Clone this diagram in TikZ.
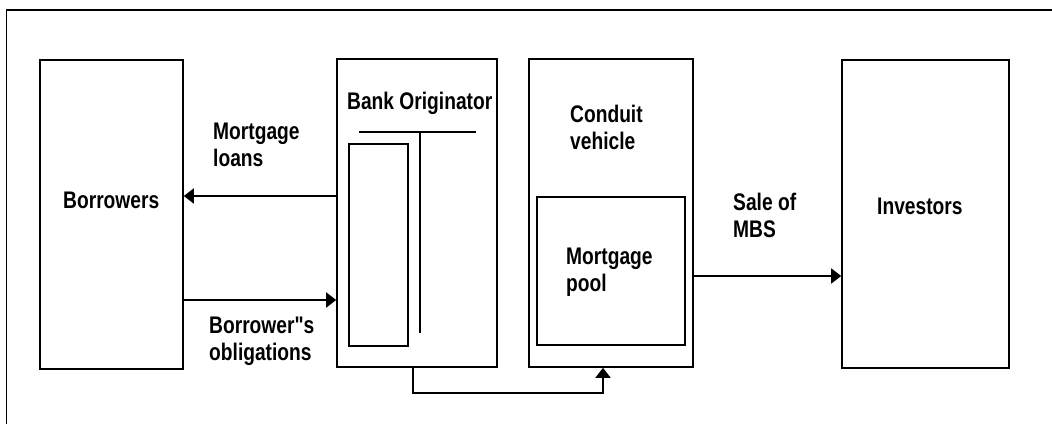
\documentclass[tikz,border=0pt]{standalone}
\usepackage{fontspec}
\setmainfont{Liberation Sans}[FakeStretch=0.8,Ligatures=TeXOff,UprightFont=*-Bold]
\usetikzlibrary{arrows.meta}
\begin{document}
\begin{tikzpicture}[x=1pt,y=-1pt,
  box/.style={draw=black,line width=1.6pt,inner sep=0pt,minimum width=#1},
  thin/.style={draw=black,line width=1.2pt},
  lbl/.style={inner sep=0pt,anchor=north west,align=left,font=\fontsize{24}{27}\selectfont},
  arr/.style={draw=black,line width=1.6pt,-{Triangle[length=10pt,width=15pt]}},
  conn/.style={draw=black,line width=1.6pt}]
\useasboundingbox (0,0) rectangle (1052,424);
\fill[white] (0,0) rectangle (1052,424);
% outer frame
\draw[conn] (1052,10) -- (6.5,10) -- (6.5,424);
% boxes
\node[box=143pt,minimum height=309pt] (borrowers) at (111.5,214.5) {};
\node[box=160pt,minimum height=308pt] (bank) at (417,213) {};
\node[box=164pt,minimum height=308pt] (conduit) at (611,213) {};
\node[box=148pt,minimum height=148pt] (pool) at (611,271) {};
\node[box=167pt,minimum height=308pt] (investors) at (925.5,214) {};
% bank inner details
\node[thin,inner sep=0pt,minimum width=59pt,minimum height=202pt] (inner) at (378.5,245) {};
\coordinate (hl) at (359,132);
\coordinate (hr) at (476,132);
\coordinate (vt) at (420,132);
\coordinate (vb) at (420,333);
\draw[thin] (hl) -- (hr);
\draw[thin] (vt) -- (vb);
% texts
\node[lbl] (tborrowers) at (63,191.5) {Borrowers};
\node[lbl] (tbank) at (347,91.5) {Bank Originator};
\node[lbl] (tconduit) at (570,104.5) {Conduit\\vehicle};
\node[lbl] (tpool) at (566,247.5) {Mortgage\\pool};
\node[lbl] (tinvestors) at (877,197.5) {Investors};
\node[lbl] (tloans) at (213,122.5) {Mortgage\\loans};
\node[lbl] (toblig) at (209,316.5) {Borrower"s\\obligations};
\node[lbl] (tsale) at (733,192.5) {Sale of\\MBS};
% connectors
\draw[arr] (bank.west |- 0,196) -- (borrowers.east |- 0,196);
\draw[arr] (borrowers.east |- 0,300) -- (bank.west |- 0,300);
\draw[arr] (conduit.east |- 0,276) -- (investors.west |- 0,276);
\draw[arr] (bank.south -| 413,0) -- (413,393) -| (conduit.south -| 603,0);
\end{tikzpicture}
\end{document}
